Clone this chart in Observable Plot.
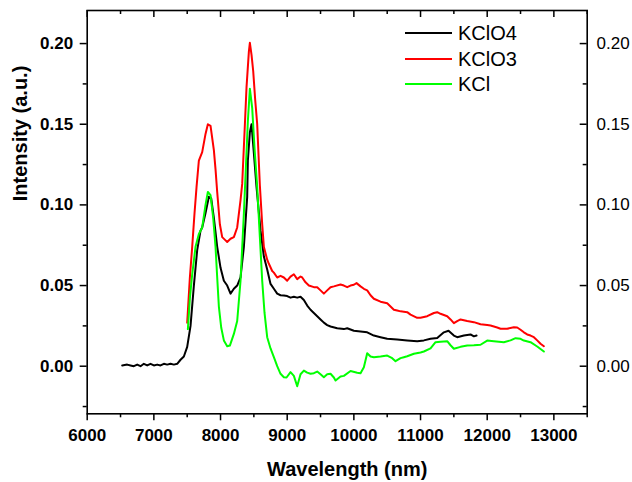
<!DOCTYPE html>
<html><head><meta charset="utf-8">
<script src="https://cdn.jsdelivr.net/npm/d3@7"></script>
<script src="https://cdn.jsdelivr.net/npm/@observablehq/plot@0.6"></script>
<style>
body{margin:0;background:#fff;}
#wrap{position:relative;width:632px;height:482px;}
.leg{position:absolute;left:405px;height:24px;display:flex;align-items:center;font:20px "Liberation Sans",Arial,sans-serif;color:#000;white-space:nowrap}
.leg .sw{display:inline-block;width:47px;height:0;border-top:2px solid;margin-right:6px}
</style></head><body><div id="wrap"></div>
<script>
const seriesNames = ["KClO4", "KClO3", "KCl"];
const seriesColors = ["#000000", "#ff0000", "#00ff00"];

const kclo4Wavelength = [6525,6600,6650,6700,6750,6800,6850,6900,6950,7000,7050,7100,7150,7200,7250,7300,7350,7400,7450,7500,7550,7600,7650,7700,7725,7775,7825,7860,7900,7950,8000,8050,8100,8150,8200,8250,8300,8350,8400,8410,8440,8465,8500,8540,8600,8650,8700,8750,8800,8850,8900,8950,9000,9050,9100,9150,9200,9250,9300,9350,9400,9450,9500,9550,9600,9650,9750,9850,9900,10000,10100,10200,10300,10400,10500,10650,10800,10950,11050,11150,11250,11350,11420,11500,11550,11650,11750,11800,11840];
const kclo4Intensity = [0.0005,0.001,0.0005,0.0,0.001,0.0,0.0015,0.0005,0.0015,0.0005,0.001,0.0005,0.0015,0.001,0.0015,0.001,0.0015,0.004,0.006,0.012,0.025,0.05,0.072,0.084,0.086,0.095,0.105,0.104,0.092,0.074,0.061,0.053,0.05,0.045,0.048,0.05,0.055,0.074,0.105,0.1275,0.145,0.15,0.132,0.111,0.084,0.068,0.06,0.051,0.048,0.045,0.044,0.0438,0.0435,0.0425,0.043,0.0425,0.043,0.041,0.0376,0.035,0.033,0.031,0.029,0.027,0.0255,0.0246,0.0235,0.023,0.0235,0.022,0.0215,0.021,0.019,0.018,0.017,0.0166,0.016,0.0155,0.016,0.017,0.0175,0.021,0.022,0.019,0.018,0.019,0.0197,0.0185,0.019];

const kclo3Wavelength = [7500,7540,7575,7610,7640,7675,7725,7775,7810,7850,7900,7925,7950,7990,8025,8075,8100,8150,8200,8250,8300,8325,8360,8390,8425,8440,8465,8490,8520,8550,8590,8625,8650,8700,8725,8775,8800,8850,8900,8950,9000,9050,9100,9150,9200,9225,9275,9325,9400,9450,9500,9550,9600,9650,9700,9800,9850,9900,9950,10000,10040,10100,10150,10200,10250,10300,10400,10500,10550,10600,10650,10700,10800,10850,10950,11000,11100,11200,11250,11300,11400,11450,11500,11550,11600,11700,11800,11900,12000,12050,12150,12200,12300,12400,12450,12500,12550,12600,12650,12700,12750,12800,12850];
const kclo3Intensity = [0.027,0.055,0.074,0.095,0.111,0.1275,0.1327,0.144,0.15,0.149,0.134,0.122,0.108,0.088,0.08,0.078,0.077,0.079,0.08,0.086,0.103,0.113,0.145,0.173,0.195,0.2005,0.193,0.183,0.165,0.15,0.112,0.088,0.074,0.066,0.0635,0.059,0.058,0.055,0.056,0.055,0.053,0.0555,0.057,0.054,0.0556,0.055,0.052,0.05,0.049,0.049,0.047,0.045,0.047,0.049,0.0495,0.0506,0.05,0.049,0.05,0.0505,0.0515,0.0495,0.048,0.047,0.044,0.0418,0.04,0.039,0.037,0.035,0.0345,0.034,0.0335,0.032,0.03,0.03,0.031,0.033,0.0335,0.0325,0.031,0.029,0.0267,0.028,0.029,0.028,0.0273,0.026,0.0255,0.0252,0.024,0.0232,0.0232,0.0242,0.024,0.0226,0.021,0.0197,0.019,0.018,0.016,0.0139,0.0124];

const kclWavelength = [7510,7540,7575,7625,7675,7725,7775,7810,7850,7890,7925,7950,7975,8010,8050,8100,8140,8200,8250,8300,8350,8410,8440,8475,8510,8550,8590,8625,8660,8700,8750,8800,8850,8900,8950,8990,9050,9100,9150,9200,9250,9300,9350,9400,9450,9500,9550,9600,9650,9700,9725,9800,9850,9950,10050,10100,10150,10200,10250,10300,10400,10500,10575,10625,10700,10750,10800,10900,11000,11050,11150,11225,11300,11400,11450,11500,11600,11700,11800,11900,12000,12100,12250,12350,12425,12500,12550,12650,12750,12850];
const kclIntensity = [0.023,0.042,0.057,0.074,0.082,0.086,0.1,0.108,0.106,0.092,0.074,0.055,0.037,0.024,0.016,0.0124,0.0128,0.02,0.028,0.053,0.0945,0.152,0.172,0.16,0.135,0.111,0.08,0.053,0.033,0.018,0.011,0.0056,0.0,-0.0047,-0.0068,-0.007,-0.0037,-0.006,-0.0124,-0.005,-0.0027,-0.004,-0.0047,-0.0043,-0.0033,-0.005,-0.0068,-0.005,-0.0047,-0.007,-0.0089,-0.0064,-0.006,-0.003,-0.004,-0.0043,-0.0006,0.008,0.006,0.0056,0.006,0.0066,0.005,0.0031,0.005,0.0056,0.0062,0.0077,0.0085,0.0091,0.011,0.0149,0.0152,0.0155,0.013,0.0108,0.012,0.0128,0.013,0.0133,0.0159,0.0155,0.0149,0.016,0.0174,0.017,0.0159,0.0149,0.0122,0.0091];

const xMajorTicks = [6000,7000,8000,9000,10000,11000,12000,13000];
const xMinorTicks = [6500,7500,8500,9500,10500,11500,12500,13500];
const yMajorTicks = [0.00,0.05,0.10,0.15,0.20];
const yMinorTicks = [-0.025,0.025,0.075,0.125,0.175];

const xLabel = "Wavelength (nm)";
const yLabel = "Intensity (a.u.)";

function rows(name, xs, ys){ return xs.map((x,i)=>({series:name, x, y:ys[i]})); }
const data = [
  ...rows("KClO4", kclo4Wavelength, kclo4Intensity),
  ...rows("KClO3", kclo3Wavelength, kclo3Intensity),
  ...rows("KCl", kclWavelength, kclIntensity)
];

const W = 632, H = 482, mL = 86.7, mR = 45.3, mT = 10, mB = 68.7;
const plotW = W - mL - mR, plotH = H - mT - mB;
const font = "Liberation Sans, Arial, sans-serif";
const fmt = d3.format(".2f");

const chart = Plot.plot({
  width: W, height: H,
  marginLeft: mL, marginRight: mR, marginTop: mT, marginBottom: mB,
  style: {fontFamily: font, color: "#000", background: "#fff", overflow: "visible"},
  x: {domain: [6000, 13500]},
  y: {domain: [-0.0295, 0.2205]},
  color: {domain: seriesNames, range: seriesColors},
  marks: [
    Plot.line(data, {x: "x", y: "y", z: "series", stroke: "series", strokeWidth: 2, strokeLinejoin: "round"}),
    Plot.frame({stroke: "#000", strokeWidth: 1.6}),
    // bottom axis (outward ticks) with bold labels
    Plot.axisX({anchor: "bottom", ticks: xMajorTicks, tickSize: 7, tickPadding: 8.5, strokeWidth: 1.5,
      tickFormat: d => String(d), fontSize: 17, fontWeight: "bold", label: null}),
    Plot.axisX({anchor: "bottom", ticks: xMinorTicks, tickSize: 4, strokeWidth: 1.5, tickFormat: () => "", label: null}),
    // top inward ticks
    Plot.tickX(xMajorTicks, {x: d => d, insetBottom: plotH - 7, stroke: "#000", strokeWidth: 1.5}),
    Plot.tickX(xMinorTicks, {x: d => d, insetBottom: plotH - 4, stroke: "#000", strokeWidth: 1.5}),
    // left axis (outward)
    Plot.axisY({anchor: "left", ticks: yMajorTicks, tickSize: 7, tickPadding: 7, strokeWidth: 1.5,
      tickFormat: fmt, fontSize: 17, fontWeight: "bold", label: null}),
    Plot.axisY({anchor: "left", ticks: yMinorTicks, tickSize: 4, strokeWidth: 1.5, tickFormat: () => "", label: null}),
    // right axis: inward ticks, plain labels
    Plot.tickY(yMajorTicks, {y: d => d, insetLeft: plotW - 7, stroke: "#000", strokeWidth: 1.5}),
    Plot.tickY(yMinorTicks, {y: d => d, insetLeft: plotW - 4, stroke: "#000", strokeWidth: 1.5}),
    Plot.axisY({anchor: "right", ticks: yMajorTicks, tickSize: 0, tickPadding: 9.3,
      tickFormat: fmt, fontSize: 17, label: null}),
    // axis titles
    Plot.text([xLabel], {frameAnchor: "bottom", text: d => d, dx: 10, dy: 55.7, lineAnchor: "middle",
      fontSize: 20, fontWeight: "bold", fill: "#000"}),
    Plot.text([yLabel], {frameAnchor: "left", text: d => d, rotate: -90, dx: -66.2, dy: -10.9, lineAnchor: "middle",
      fontSize: 20, fontWeight: "bold", fill: "#000"})
  ]
});

const wrap = document.getElementById("wrap");
wrap.appendChild(chart);
const legendY = [33, 59, 84];
seriesNames.forEach((name, i) => {
  const item = document.createElement("div");
  item.className = "leg";
  item.style.top = (legendY[i] - 12) + "px";
  const sw = document.createElement("span");
  sw.className = "sw";
  sw.style.borderTopColor = seriesColors[i];
  const t = document.createElement("span");
  t.textContent = name;
  item.appendChild(sw); item.appendChild(t);
  wrap.appendChild(item);
});
</script></body></html>
